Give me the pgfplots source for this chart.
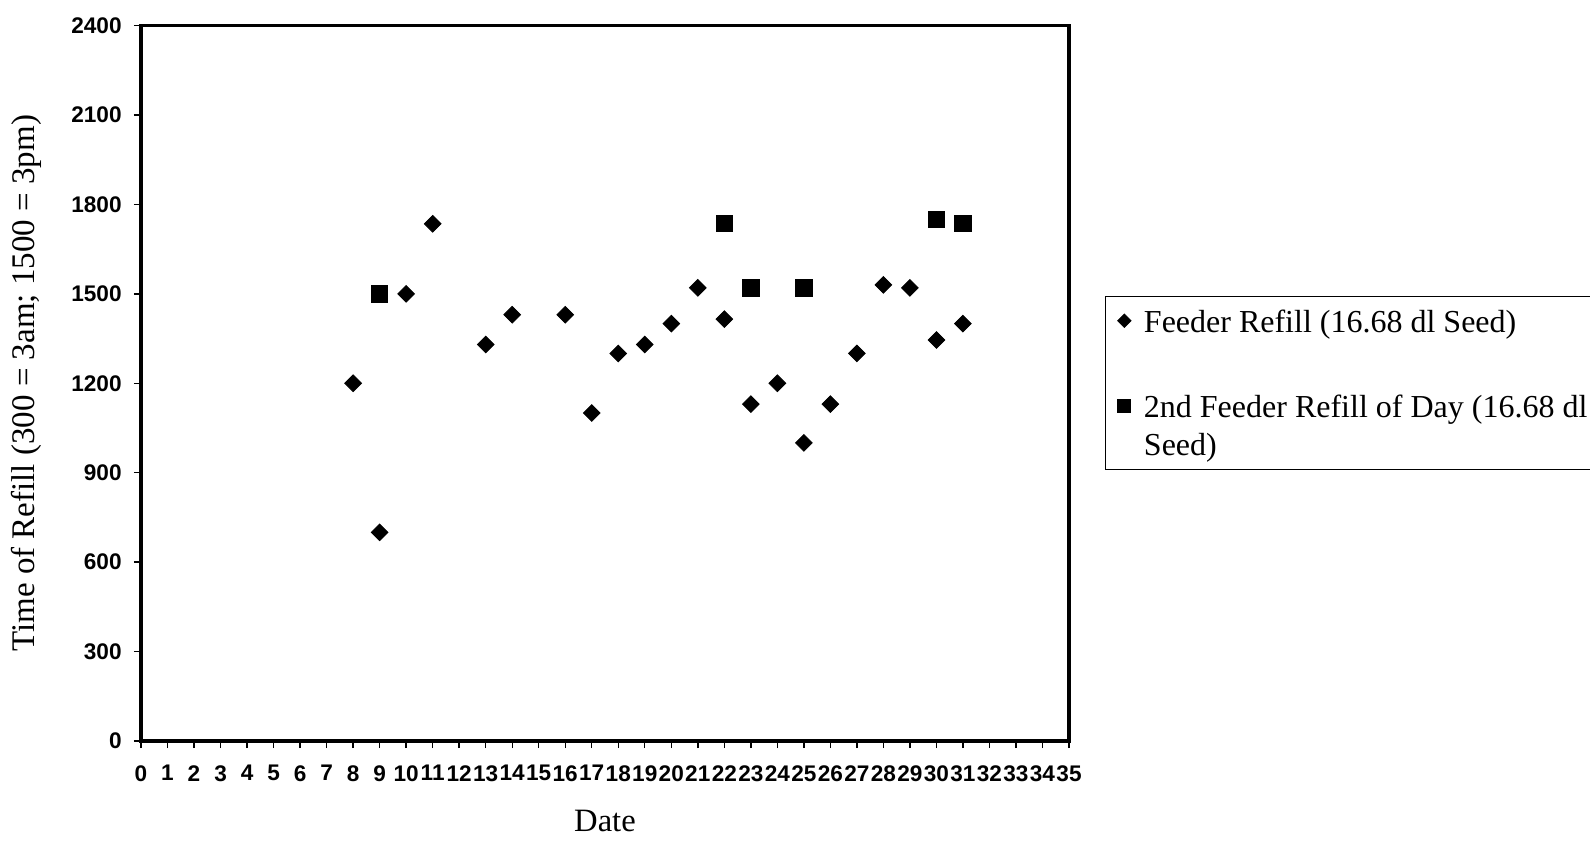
\documentclass[border=0pt]{standalone}
\usepackage{fontspec}
\setmainfont{Liberation Serif}
\newfontfamily\ticksans{Liberation Sans}
\usepackage{pgfplots}
\pgfplotsset{compat=1.18}

% single, slightly smaller mark as the legend sample
\pgfplotsset{
  refillmark/.style={legend image code/.code={%
    \draw[##1, every mark/.append style={scale=0.8}] plot coordinates {(0pt,5.8pt)};}},
}

\pgfplotstableread{
date time
8 1200
9 700
10 1500
11 1735
13 1330
14 1430
16 1430
17 1100
18 1300
19 1330
20 1400
21 1520
22 1415
23 1130
24 1200
25 1000
26 1130
27 1300
28 1530
29 1520
30 1345
31 1400
}\firstrefill

\pgfplotstableread{
date time
9 1500
22 1735
23 1520
25 1520
30 1750
31 1735
}\secondrefill

\begin{document}
\begin{tikzpicture}
\begin{axis}[
  at={(70.5pt,50pt)}, anchor=south west,
  scale only axis, width=464pt, height=357.75pt,
  xmin=0, xmax=35, ymin=0, ymax=2400,
  xtick={0,...,35}, ytick={0,300,...,2400},
  tick align=outside, tick pos=left,
  major tick length=3.5pt,
  every tick/.style={black, line width=0.7pt},
  axis line style={line width=1.7pt},
  /pgf/number format/assume math mode=true,
  /pgf/number format/1000 sep={},
  ticklabel style={font=\ticksans\bfseries\fontsize{11.3}{12}\selectfont, inner sep=0pt},
  xticklabel style={anchor=north, yshift=-8.5pt},
  yticklabel style={anchor=east, xshift=-6pt},
  xlabel={Date},
  ylabel={Time of Refill (300 = 3am; 1500 = 3pm)},
  every axis x label/.style={at={(axis description cs:0.5,-0.1268)}, anchor=base,
    font=\fontsize{16.3}{19}\selectfont},
  every axis y label/.style={at={(axis description cs:-0.1234,0.5)}, rotate=90, anchor=center,
    font=\fontsize{16.5}{19}\selectfont},
  legend cell align=left,
  legend style={
    at={(axis description cs:1.0388,0.6219)}, anchor=north west,
    draw=black, line width=0.6pt,
    inner xsep=6pt, inner ysep=1.2pt,
    row sep=0.9pt, column sep=6.5pt,
    font=\fontsize{16}{19.2}\selectfont,
    nodes={inner sep=0pt, anchor=base west, text height=16.65pt, text depth=24.95pt},
  },
]
\addplot[only marks, mark=square*, mark size=2.95pt,
  mark options={rotate=45, fill=black, draw=black, line width=0.4pt}, refillmark]
  table[x=date, y=time] {\firstrefill};
\addlegendentry{Feeder Refill (16.68 dl Seed)}

\addplot[only marks, mark=square*, mark size=4.05pt,
  mark options={fill=black, draw=black, line width=0.4pt}, refillmark]
  table[x=date, y=time] {\secondrefill};
\addlegendentry{\begin{tabular}[t]{@{}l@{}}2nd Feeder Refill of Day (16.68 dl\\Seed)\end{tabular}}
\end{axis}
\pgfresetboundingbox
\path[use as bounding box] (0,0) rectangle (795pt,420.5pt);
\end{tikzpicture}
\end{document}
